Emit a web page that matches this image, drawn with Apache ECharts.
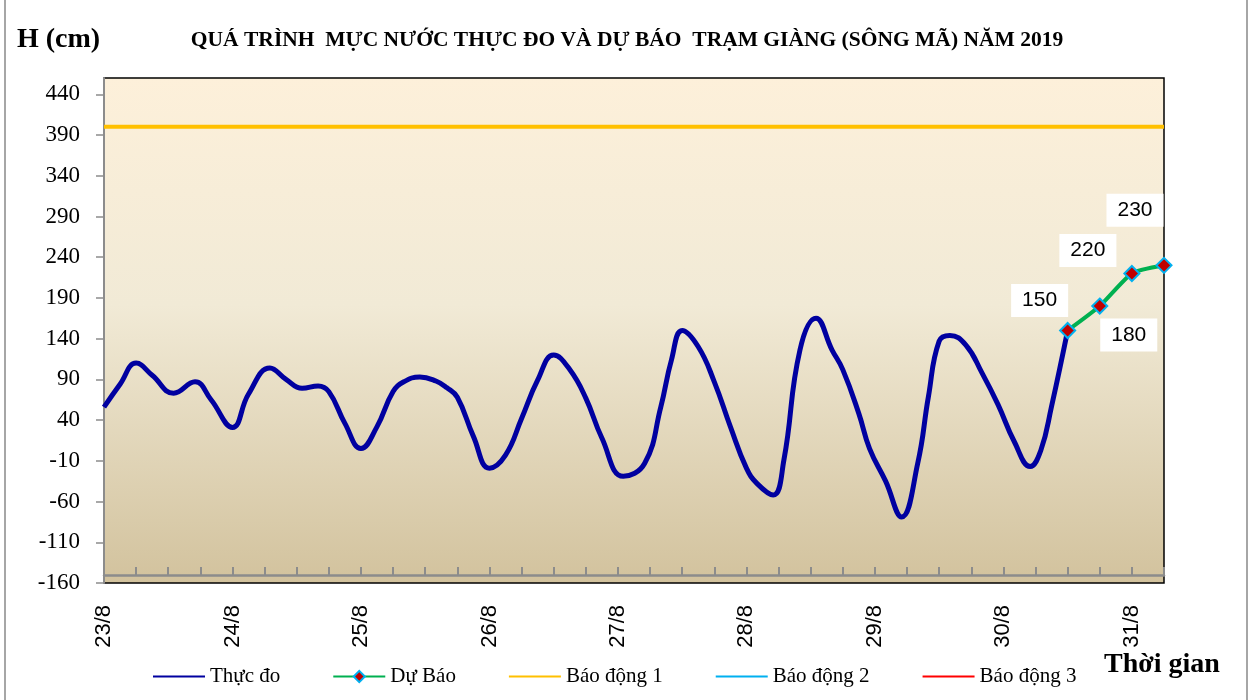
<!DOCTYPE html>
<html>
<head>
<meta charset="utf-8">
<script src="https://cdn.jsdelivr.net/npm/echarts@6/dist/echarts.min.js"></script>
<style>
  html, body { margin: 0; padding: 0; background: #fff; }
  #chart { width: 1251px; height: 700px; }
</style>
</head>
<body>
<div id="chart"></div>
<script>
  // mực nước thực đo (giờ tính từ 0h ngày 23/8, cm)
  var obsHours = [0, 3, 6, 9, 13, 17, 20, 24, 27, 31, 34, 37, 40, 42, 45, 48, 51, 54, 56, 59,
    62, 64, 66, 69, 72, 75, 78, 81, 84, 87, 90, 93, 97, 101, 104, 106, 108, 111, 114, 117,
    120, 122, 125, 127, 130, 133, 136, 138, 141, 143, 146, 149, 152, 154, 156, 158, 161, 164, 167, 170,
    173, 175, 177, 180]
  var obsLevels = [56, 84, 110, 95, 73, 87, 65, 31, 72, 104, 90, 79, 82, 75, 36, 5, 32, 75, 87, 93,
    88, 80, 68, 20, -19, -3, 42, 89, 120, 102, 67, 18, -29, -13, 56, 114, 150, 130, 87, 32,
    -19, -38, -52, -9, 126, 165, 126, 102, 48, 5, -35, -79, -13, 69, 137, 144, 132, 98, 59, 14,
    -17, 3, 57, 150]

  // dự báo
  var fcHours = [180, 186, 192, 198]
  var fcLevels = [150, 180, 220, 230]

  // báo động 1
  var alarm1Hours = [0, 198]
  var alarm1Levels = [400, 400]

  // trục
  var yTickValues = [-160, -110, -60, -10, 40, 90, 140, 190, 240, 290, 340, 390, 440]
  var dayHours = [0, 24, 48, 72, 96, 120, 144, 168, 192]
  var dayLabels = ['23/8', '24/8', '25/8', '26/8', '27/8', '28/8', '29/8', '30/8', '31/8']

  var serif = 'Liberation Serif'
  var sans = 'Liberation Sans'
  // vị trí nhãn số liệu dự báo so với điểm
  var fcLabelOffsets = [[-28, -30], [29, 29], [-44, -23], [-29, -55]]

  var myChart = echarts.init(document.getElementById('chart'))

  var obsData = obsHours.map(function (h, i) { return [h, obsLevels[i]] })
  var alarm1Data = alarm1Hours.map(function (h, i) { return [h, alarm1Levels[i]] })
  var fcData = fcHours.map(function (h, i) {
    return { value: [h, fcLevels[i]], label: { offset: fcLabelOffsets[i] } }
  })

  var chartOption = {
    animation: false,
    grid: {
      left: 104, right: 87, top: 78, bottom: 117,
      outerBoundsMode: 'none',
      show: true,
      borderColor: '#000',
      borderWidth: 1.5,
      backgroundColor: new echarts.graphic.LinearGradient(0, 0, 0, 1, [
        { offset: 0, color: '#FDF0DA' },
        { offset: 0.45, color: '#F1EAD6' },
        { offset: 1, color: '#D2C29D' }
      ])
    },
    legend: {
      left: 147,
      top: 661,
      itemWidth: 52,
      itemHeight: 14,
      itemGap: 52,
      textStyle: { fontFamily: serif, fontSize: 21, color: '#000' },
      data: [
        { name: 'Thực đo', itemStyle: { opacity: 0 } },
        { name: 'Dự Báo' },
        { name: 'Báo động 1', itemStyle: { opacity: 0 } },
        { name: 'Báo động 2', itemStyle: { opacity: 0 } },
        { name: 'Báo động 3', itemStyle: { opacity: 0 } }
      ]
    },
    xAxis: {
      type: 'value',
      min: 0,
      max: 198,
      interval: 6,
      offset: -8,
      splitLine: { show: false },
      axisLine: { onZero: false, lineStyle: { color: '#8C8C8C', width: 2.5 } },
      axisTick: { inside: true, length: 8, lineStyle: { color: '#8C8C8C', width: 2 } },
      axisLabel: {
        customValues: dayHours,
        rotate: 90,
        margin: 30,
        fontFamily: sans,
        fontSize: 22,
        color: '#000',
        formatter: function (v) { return dayLabels[dayHours.indexOf(v)] || '' }
      }
    },
    yAxis: {
      type: 'value',
      min: -160,
      max: 460,
      interval: 50,
      splitLine: { show: false },
      axisLine: { show: true, lineStyle: { color: '#8C8C8C', width: 2 } },
      axisTick: { show: true, customValues: yTickValues, length: 8, lineStyle: { color: '#8C8C8C', width: 1.5 } },
      axisLabel: {
        customValues: yTickValues,
        margin: 24,
        fontFamily: serif,
        fontSize: 23,
        color: '#000'
      }
    },
    graphic: [
      { type: 'text', left: 17, top: 26,
        style: { text: 'H (cm)', font: 'bold 28px ' + serif, fill: '#000' } },
      { type: 'text', x: 627, y: 40,
        style: { text: 'QUÁ TRÌNH  MỰC NƯỚC THỰC ĐO VÀ DỰ BÁO  TRẠM GIÀNG (SÔNG MÃ) NĂM 2019',
          font: 'bold 21.5px ' + serif, fill: '#000', textAlign: 'center', textVerticalAlign: 'middle' } },
      { type: 'text', x: 1104, y: 665,
        style: { text: 'Thời gian', font: 'bold 28px ' + serif, fill: '#000', textVerticalAlign: 'middle' } },
      { type: 'line', shape: { x1: 5, y1: 0, x2: 5, y2: 700 }, style: { stroke: '#A6A6A6', lineWidth: 2 } },
      { type: 'line', shape: { x1: 1247, y1: 0, x2: 1247, y2: 700 }, style: { stroke: '#A6A6A6', lineWidth: 2 } }
    ],
    series: [
      {
        name: 'Báo động 1',
        type: 'line',
        data: alarm1Data,
        symbol: 'none',
        silent: true,
        z: 1,
        lineStyle: { color: '#FFC000', width: 4 },
        itemStyle: { color: '#FFC000' }
      },
      {
        name: 'Báo động 2',
        type: 'line',
        data: [],
        symbol: 'none',
        lineStyle: { color: '#00B0F0', width: 3 },
        itemStyle: { color: '#00B0F0' }
      },
      {
        name: 'Báo động 3',
        type: 'line',
        data: [],
        symbol: 'none',
        lineStyle: { color: '#FF0000', width: 3 },
        itemStyle: { color: '#FF0000' }
      },
      {
        name: 'Thực đo',
        type: 'line',
        data: obsData,
        smooth: 0.45,
        symbol: 'none',
        z: 3,
        lineStyle: { color: '#0000A0', width: 5 },
        itemStyle: { color: '#0000A0' }
      },
      {
        name: 'Dự Báo',
        type: 'line',
        data: fcData,
        smooth: 0.2,
        symbol: 'diamond',
        symbolSize: 15,
        z: 4,
        lineStyle: { color: '#00B050', width: 4 },
        itemStyle: { color: '#C00000', borderColor: '#00B0F0', borderWidth: 2 },
        label: {
          show: true,
          position: 'inside',
          formatter: function (p) { return p.value[1] },
          backgroundColor: '#fff',
          padding: [6, 11],
          fontFamily: sans,
          fontSize: 21,
          color: '#000'
        }
      }
    ]
  }

  myChart.setOption(chartOption)
</script>
</body>
</html>
